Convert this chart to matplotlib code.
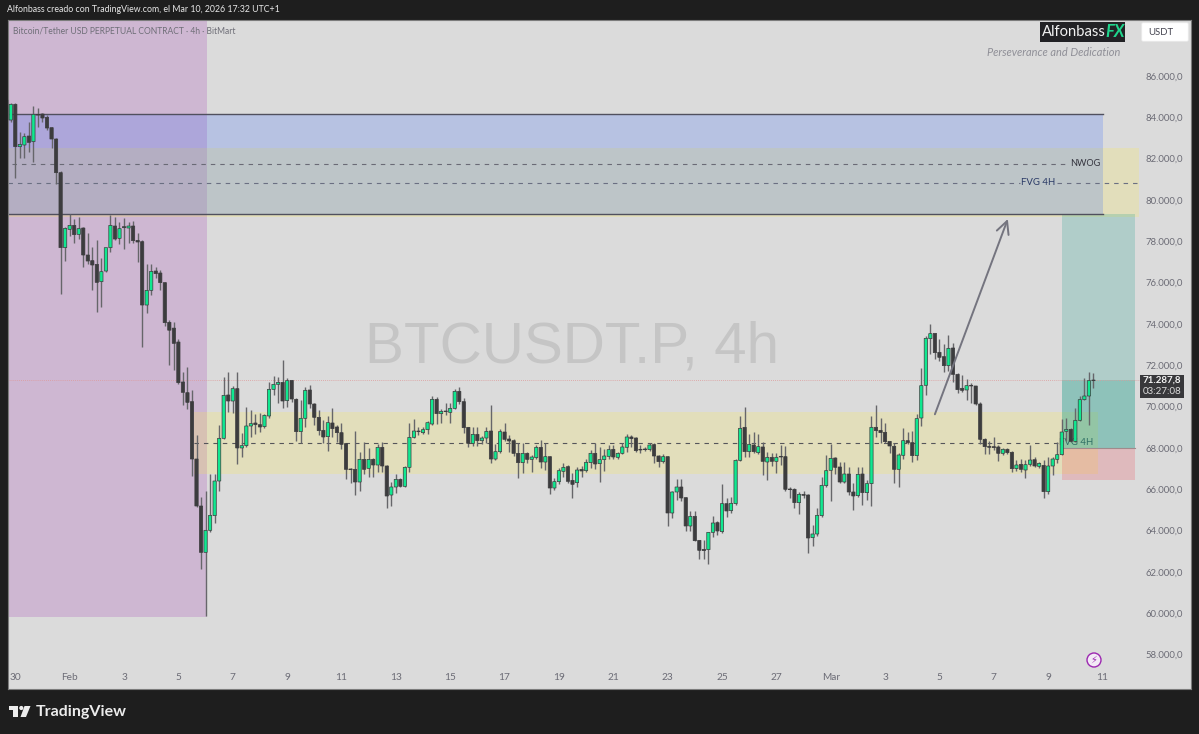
"""BTCUSDT.P 4h TradingView snapshot, redrawn with matplotlib."""
import matplotlib
matplotlib.use("Agg")
import matplotlib.pyplot as plt
import numpy as np
from matplotlib.patches import Circle, FancyBboxPatch, Polygon, Rectangle
from matplotlib.ticker import FuncFormatter

plt.rcParams["font.family"] = ["Lato", "DejaVu Sans"]

FIRST_BAR = -2  # two bars of Jan 29 are still visible on the left edge

opens = [
    84840, 83870, 84630, 82580, 82661, 83096, 82822, 84145, 84161, 84000,
    83500, 82951, 81322, 77693, 78580, 78773, 78338, 78644, 77338, 77064,
    76886, 76047, 76563, 77693, 78741, 78144, 78709, 78644, 78741, 78048,
    77983, 74918, 75628, 76563, 76467, 76000, 74080, 73800, 73128, 71193,
    70676, 70241, 67467, 65192, 62950, 64015, 64725, 66402, 68467, 70564,
    70273, 70870, 68000, 68112, 69064, 69209, 69128, 69032, 69548, 70838,
    71080, 71176, 70290, 71273, 70354, 68790, 69435, 70806, 70128, 69483,
    68854, 68548, 69209, 69015, 68741, 68209, 66983, 66967, 66354, 67451,
    67015, 67450, 67176, 68031, 67128, 65724, 66112, 66482, 66144, 67063,
    68515, 68821, 68740, 68886, 69160, 70354, 69660, 69789, 69724, 69918,
    70741, 70241, 68999, 68224, 68660, 68353, 68482, 68821, 67466, 67821,
    68773, 68434, 68353, 67740, 67289, 67740, 67450, 67531, 68031, 67321,
    67579, 66063, 66370, 66870, 67095, 66434, 66321, 66967, 66902, 67290,
    67741, 67241, 67435, 67596, 67935, 67548, 67741, 68032, 68532, 68483,
    67935, 67951, 67919, 68161, 67612, 67338, 67580, 64854, 65870, 66112,
    65596, 64225, 64693, 63531, 63096, 63080, 63918, 64386, 63951, 65306,
    64967, 65306, 67402, 69000, 67822, 68144, 67773, 68048, 67322, 67548,
    67354, 67596, 67580, 66015, 66000, 65354, 65757, 65725, 63660, 63838,
    64725, 66177, 66919, 67515, 67080, 66354, 66741, 65870, 65693, 66741,
    65838, 66274, 69000, 68854, 68757, 68322, 68080, 66967, 67645, 68354,
    68258, 67629, 69451, 71032, 73290, 73548, 72629, 72419, 71983, 72838,
    71564, 70887, 70806, 71032, 71000, 70129, 68419, 68080, 68064, 68048,
    67741, 67935, 67790, 67000, 67208, 66934, 67209, 67434, 67112, 67160,
    65886, 67128, 67450, 67676, 68805, 68902, 68321, 69338, 70338, 70515,
    71257,
]
highs = [
    84900, 84680, 84680, 83273, 83257, 83757, 84564, 84435, 84225, 84112,
    83548, 83000, 81400, 78700, 79322, 79064, 79160, 78709, 78386, 77709,
    78064, 77176, 76600, 79273, 79193, 78935, 79112, 78951, 79000, 78386,
    78050, 76902, 76902, 76773, 76612, 76050, 74193, 74080, 73257, 71693,
    71902, 70806, 68628, 65644, 65918, 66741, 66741, 69112, 71451, 71660,
    71000, 71660, 68741, 69967, 69838, 69644, 69676, 69644, 71209, 71500,
    71451, 72257, 71402, 71290, 70402, 70322, 70967, 71048, 70160, 69838,
    69354, 69548, 69918, 69112, 69225, 68225, 67015, 68822, 67822, 68273,
    67983, 67500, 68192, 68305, 67176, 66370, 66740, 66531, 67144, 69224,
    69386, 69031, 69031, 69305, 70531, 70483, 69870, 70192, 70160, 70854,
    70934, 70402, 69031, 69031, 68999, 68579, 69031, 70079, 68192, 68902,
    69192, 68628, 68418, 68257, 68224, 67821, 67660, 68144, 68386, 68257,
    67611, 66531, 67015, 67257, 67176, 66773, 67095, 67128, 67451, 67902,
    68257, 68064, 67935, 68144, 68144, 67822, 68225, 68677, 68628, 68515,
    68144, 68064, 68225, 68225, 67661, 67693, 67612, 65935, 66515, 66483,
    65644, 64951, 64951, 63548, 63548, 63951, 64693, 64483, 66241, 65596,
    65612, 67451, 69548, 69967, 68677, 68790, 68677, 68306, 67822, 67774,
    67741, 68144, 68096, 66096, 66048, 65886, 65935, 65757, 64273, 65080,
    66612, 67677, 68193, 67548, 67338, 67338, 67064, 66290, 67096, 67096,
    66451, 69548, 70080, 69467, 69193, 68354, 68225, 67741, 68951, 68790,
    68838, 69629, 71854, 73419, 74000, 73580, 73274, 73016, 73467, 73064,
    71612, 71532, 71338, 71129, 71016, 70241, 68467, 68354, 68516, 68145,
    67983, 68016, 67854, 67419, 67450, 67418, 68144, 67579, 67338, 67418,
    67547, 67579, 68305, 69402, 69434, 68950, 69918, 70515, 71370, 71693,
    71612,
]
lows = [
    83700, 83790, 81048, 82015, 82015, 82338, 81854, 83515, 83757, 83386,
    82532, 80773, 75450, 77047, 78273, 77935, 78096, 76741, 76902, 75644,
    74563, 74838, 76531, 77500, 78064, 77870, 77612, 77902, 77902, 77015,
    72900, 74547, 75402, 76208, 75644, 73900, 72015, 71773, 71096, 70080,
    69870, 66660, 65150, 62128, 59870, 63934, 64386, 65934, 68420, 69757,
    69677, 67225, 67548, 68032, 68515, 68677, 68790, 68950, 69435, 70564,
    70160, 69918, 69967, 70241, 68354, 68257, 69000, 69918, 69112, 68628,
    68257, 67854, 68548, 68306, 67935, 66483, 66322, 65725, 65918, 66741,
    66612, 66612, 66853, 66853, 65079, 65192, 65837, 66095, 66095, 66821,
    68466, 68628, 68676, 68676, 69112, 69160, 69224, 69595, 69192, 69870,
    70112, 68740, 68031, 68095, 68095, 68192, 68224, 67257, 67418, 67773,
    68337, 67821, 67611, 66563, 66805, 67289, 66853, 67450, 67015, 66934,
    65773, 65966, 66257, 66611, 66289, 65563, 66128, 66612, 66854, 67048,
    66967, 66370, 66886, 67451, 67451, 67483, 67709, 67822, 68064, 67822,
    67741, 67870, 67870, 67257, 67096, 67257, 64225, 64628, 65483, 65451,
    63999, 63999, 63483, 62612, 62612, 62370, 63677, 63790, 63870, 64677,
    64870, 65241, 67370, 67548, 67548, 67773, 67709, 66693, 66451, 67128,
    66806, 67177, 65935, 65596, 65080, 64806, 65564, 62934, 63273, 63741,
    64644, 66128, 65451, 66741, 66322, 66290, 65725, 65000, 65645, 65241,
    65483, 65209, 68516, 68225, 68225, 67741, 66290, 66128, 67451, 68193,
    67338, 67419, 69064, 70548, 72532, 72290, 72225, 71693, 71741, 71209,
    70677, 70725, 70322, 70161, 70080, 68193, 67693, 67709, 67903, 67387,
    67661, 67693, 66854, 66903, 66854, 66531, 67128, 67063, 67015, 65563,
    65773, 66692, 67289, 67660, 68354, 68289, 68305, 69305, 70300, 69112,
    70886,
]
closes = [
    83870, 84630, 82580, 82693, 83064, 82790, 84145, 84110, 83967, 83483,
    82951, 81322, 77693, 78628, 78773, 78322, 78612, 77338, 77047, 76854,
    76015, 76531, 77693, 78773, 78112, 78612, 78660, 78741, 78032, 77967,
    74918, 75628, 76547, 76435, 76000, 74064, 73700, 73064, 71160, 70693,
    70209, 67467, 65192, 62950, 64015, 64741, 66402, 68467, 70547, 70273,
    70870, 68000, 68112, 69064, 69176, 69128, 69015, 69580, 70838, 71080,
    71176, 70273, 71257, 70370, 68790, 69435, 70790, 70128, 69483, 68838,
    68531, 69225, 68935, 68741, 68177, 66967, 66950, 66354, 67451, 66967,
    67450, 67176, 68031, 67128, 65676, 66112, 66482, 66144, 67063, 68515,
    68821, 68789, 68886, 69224, 70354, 69660, 69773, 69757, 69918, 70741,
    70241, 68982, 68224, 68660, 68353, 68482, 68805, 67466, 67821, 68789,
    68418, 68337, 67740, 67289, 67740, 67450, 67563, 68031, 67321, 67579,
    66063, 66370, 66902, 67063, 66386, 66241, 66934, 66886, 67306, 67741,
    67225, 67435, 67612, 67919, 67564, 67741, 68048, 68532, 68451, 67870,
    67903, 67919, 68144, 67612, 67338, 67580, 64854, 65870, 66112, 65580,
    64225, 64693, 63515, 63048, 63032, 63918, 64370, 63983, 65306, 64951,
    65322, 67402, 68951, 67822, 68177, 67822, 68064, 67354, 67548, 67354,
    67548, 67564, 66000, 65983, 65354, 65757, 65709, 63644, 63838, 64741,
    66193, 66902, 67499, 67064, 66354, 66741, 65870, 65677, 66725, 65838,
    66274, 69000, 68838, 68741, 68306, 68096, 66967, 67661, 68354, 68258,
    67629, 69419, 71015, 73306, 73532, 72612, 72387, 71983, 72822, 71564,
    70822, 70790, 71016, 71000, 70129, 68419, 68064, 68032, 68016, 67741,
    67935, 67774, 67000, 67177, 66967, 67192, 67418, 67128, 67257, 65886,
    67128, 67467, 67676, 68773, 68902, 68321, 69338, 70338, 70515, 71257,
    71288,
]

day_ticks = list(range(0, 241, 12))
day_labels = ["30", "Feb", "3", "5", "7", "9", "11", "13", "15", "17", "19", "21",
              "23", "25", "27", "Mar", "3", "5", "7", "9", "11"]
price_ticks = list(range(58000, 86001, 2000))

LAST_PRICE = 71287.8
NWOG_TOP, NWOG_MID, NWOG_BOT = 84137, 81742, 79330
FVG_UP_TOP, FVG_UP_MID, FVG_UP_BOT = 82516, 80808, 79190
FVG_LO_TOP, FVG_LO_MID, FVG_LO_BOT = 69725, 68226, 66724
TARGET, ENTRY, STOP = 79340, 67985, 66465
PURPLE_BOT = 59820

BG = "#dbdbdb"
FRAME = "#1e1e1e"
UP = "#10e890"
DOWN = "#3c3c3e"
LABEL = "#6c6c76"

# bar number <-> pixel: x = 15.3 + 4.53 * bar, price <-> pixel: 48.39 usd per px
XMIN, XMAX = (8 - 15.3) / 4.53, (1191 - 15.3) / 4.53
YMAX, YMIN = 86000 + 56 * 48.39, 86000 - 613 * 48.39


def fx(px):
    return px / 1199


def fy(py):
    return 1 - py / 734


def main():
    fig = plt.figure(figsize=(11.99, 7.34), dpi=100, facecolor=FRAME)
    ax = fig.add_axes([fx(8), fy(689), fx(1191) - fx(8), fy(20) - fy(689)], facecolor=BG)
    ax.set_xlim(XMIN, XMAX)
    ax.set_ylim(YMIN, YMAX)

    # --- zones ---
    ax.axvspan(XMIN, 42.3, ymin=(PURPLE_BOT - YMIN) / (YMAX - YMIN), color="#9c27b0",
               alpha=0.2, lw=0, zorder=1)
    ax.fill_between([XMIN, 248.05], FVG_UP_BOT, FVG_UP_TOP, color="#ffeb3b", alpha=0.2, lw=0, zorder=1)
    ax.fill_between([39.5, 239.1], FVG_LO_BOT, FVG_LO_TOP, color="#ffeb3b", alpha=0.2, lw=0, zorder=1)
    ax.fill_between([XMIN, 240.1], NWOG_BOT, NWOG_TOP, color="#2962ff", alpha=0.2, lw=0, zorder=1.1)
    ax.plot([XMIN, 240.1], [NWOG_TOP, NWOG_TOP], color="#50505e", lw=1.0, zorder=2)
    ax.plot([XMIN, 240.1], [NWOG_BOT, NWOG_BOT], color="#50505e", lw=1.0, zorder=2)

    # long position box
    ax.fill_between([231.06, 247.2], ENTRY, TARGET, color="#089981", alpha=0.2, lw=0, zorder=1.2)
    ax.fill_between([231.06, 247.2], ENTRY, LAST_PRICE, color="#089981", alpha=0.2, lw=0, zorder=1.2)
    ax.fill_between([231.06, 247.2], STOP, ENTRY, color="#f23645", alpha=0.2, lw=0, zorder=1.2)
    ax.plot([231.06, 247.2], [ENTRY, ENTRY], color="#a08a8c", lw=0.8, zorder=1.3)

    # --- dashed mid lines and their labels ---
    dash = (0, (4, 4.5))
    ax.plot([-0.8, 231.7], [NWOG_MID] * 2, color="#6a6a76", lw=0.8, ls=dash, zorder=2)
    ax.text(232.8, NWOG_MID, "NWOG", color="#33333d", fontsize=6.6, va="center", zorder=3)
    ax.plot([XMIN, 221.7], [FVG_UP_MID] * 2, color="#6a6f82", lw=0.8, ls=dash, zorder=2)
    ax.plot([230.0, 248.05], [FVG_UP_MID] * 2, color="#6a6f82", lw=0.8, ls=dash, zorder=2)
    ax.text(225.7, FVG_UP_MID + 30, "FVG 4H", color="#2a3a66", fontsize=6.9, ha="center", va="center", zorder=3)
    ax.plot([39.5, 231.0], [FVG_LO_MID] * 2, color="#55555a", lw=0.8, ls=dash, zorder=2)
    ax.text(234.2, FVG_LO_MID + 50, "FVG 4H", color="#2f6f64", fontsize=6.9, ha="center", va="center", zorder=3)

    # last price
    ax.plot([XMIN, 248.5], [LAST_PRICE] * 2, color="#dd9a9a", lw=0.6, ls=(0, (1, 1.5)), zorder=2)

    # watermark
    ax.text(0.4766, 0.511, "BTCUSDT.P, 4h", transform=ax.transAxes, color="#c5c5c5", fontsize=42,
            family="Liberation Sans", ha="center", va="center", zorder=1.05)

    # --- candles ---
    bars = np.arange(len(closes)) + FIRST_BAR
    o, h, l, c = map(np.array, (opens, highs, lows, closes))
    up = c >= o
    ax.vlines(bars, l, h, color="#66666a", lw=1.0, zorder=4)
    ax.bar(bars[up], (c - o)[up], bottom=o[up], width=0.72, color=UP, edgecolor=DOWN, lw=0.5, zorder=5, snap=False)
    ax.bar(bars[~up], (o - c)[~up], bottom=c[~up], width=0.72, color=DOWN, edgecolor=DOWN, lw=0.5, zorder=5, snap=False)

    # projected move
    ax.annotate("", xy=(219.1, 79080), xytext=(203.0, 69630),
                arrowprops=dict(arrowstyle="->,head_length=0.9,head_width=0.45", color="#74747f",
                                lw=1.4, shrinkA=0, shrinkB=0), zorder=6)

    # --- axes ---
    ax.set_xticks(day_ticks)
    ax.set_xticklabels(day_labels)
    ax.set_yticks(price_ticks)
    ax.yaxis.tick_right()
    ax.yaxis.set_major_formatter(FuncFormatter(lambda v, _: f"{v:,.1f}".replace(",", "X").replace(".", ",").replace("X", ".")))
    ax.tick_params(axis="x", length=0, pad=-11.5, labelsize=7.3, labelcolor=LABEL)
    ax.tick_params(axis="y", length=0, pad=-32.5, labelsize=6.8, labelcolor=LABEL)
    for s in ax.spines.values():
        s.set_color("#7c7c7c")
        s.set_linewidth(0.8)

    # --- header and footer ---
    fig.text(fx(7), fy(10), "Alfonbass creado con TradingView.com, el Mar 10, 2026 17:32 UTC+1",
             color="#e8e8e8", fontsize=6.27, va="center")
    fig.text(fx(13), fy(30.5), "Bitcoin/Tether USD PERPETUAL CONTRACT · 4h · BitMart",
             color="#6f6f78", fontsize=6.13, va="center")
    fig.text(fx(36), fy(712), "TradingView", color="#ececec", fontsize=11.5, weight="bold", va="center")

    # TradingView mark
    fig.add_artist(Polygon([(fx(9), fy(706)), (fx(18.3), fy(706)), (fx(18.3), fy(717)), (fx(13.4), fy(717)),
                            (fx(13.4), fy(710)), (fx(9), fy(710))], transform=fig.transFigure, color="#ececec", lw=0))
    fig.add_artist(Polygon([(fx(24.5), fy(706)), (fx(30.5), fy(706)), (fx(26), fy(717)), (fx(20.5), fy(717))],
                           transform=fig.transFigure, color="#ececec", lw=0))
    fig.add_artist(Circle((21.3, 734 - 708), 2.1, transform=None, color="#ececec", lw=0))

    # logo block
    fig.add_artist(Rectangle((fx(1040), fy(42)), 85 / 1199, 20 / 734, transform=fig.transFigure,
                             color="#222225", lw=0, zorder=8))
    fig.text(fx(1042), fy(32), "Alfonbass", color="#f2f2f2", fontsize=10.6, va="center", zorder=9)
    fig.text(fx(1105), fy(32), "FX", color="#1fd58c", fontsize=12, style="italic", weight="bold",
             va="center", zorder=9)
    fig.text(fx(987), fy(52.5), "Perseverance and Dedication", color="#8f8f97", fontsize=7.95,
             style="italic", va="center")

    # currency button
    fig.add_artist(FancyBboxPatch((fx(1143), fy(40)), 44 / 1199, 16 / 734, transform=fig.transFigure,
                                  boxstyle="round,pad=0.001", mutation_aspect=1.6, fc="white", ec="#eeeeee",
                                  lw=0.5, zorder=8))
    fig.text(fx(1148), fy(32.5), "USDT", color="#444450", fontsize=6.9, va="center", zorder=9)

    # last price tag
    fig.add_artist(Rectangle((fx(1140), fy(397.5)), 43.5 / 1199, 22.5 / 734, transform=fig.transFigure,
                             color="#38383b", lw=0, zorder=8))
    fig.text(fx(1161.7), fy(380.5), "71.287,8", color="#f5f5f5", fontsize=7, weight="bold",
             ha="center", va="center", zorder=9)
    fig.text(fx(1161.7), fy(391), "03:27:08", color="#dcdcdc", fontsize=7, ha="center", va="center", zorder=9)

    # alert badge
    fig.add_artist(Circle((1094, 734 - 660), 7, transform=None, fc="#f3eaf6", ec="#9c27b0", lw=1, zorder=8))
    fig.text(fx(1094), fy(660), "\u26a1", color="#9c27b0", fontsize=7, family="DejaVu Sans",
             ha="center", va="center", zorder=9)

    fig.savefig("out.png", dpi=100, facecolor=FRAME)


if __name__ == "__main__":
    main()
